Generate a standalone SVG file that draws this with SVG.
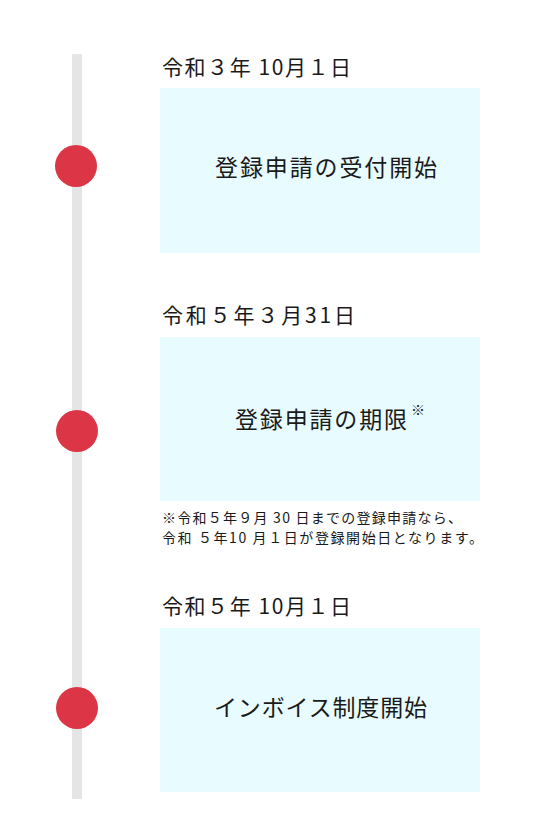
<svg xmlns="http://www.w3.org/2000/svg" width="556" height="839" viewBox="0 0 556 839">
<style>
text{font-family:"Noto Sans CJK JP","Noto Sans",sans-serif;fill:#1a1a1a}
.date{font-size:21px}
.label{font-size:23px}
.note{font-size:14px}
.box{fill:#e8fbfe}
.dot{fill:#dc3545}
</style>
<rect width="556" height="839" fill="#fff"/>
<g id="connectors">
<rect x="72" y="54" width="10" height="745" fill="#e5e5e5"/>
</g>
<g id="event1">
<circle class="dot" cx="76" cy="166" r="21"/>
<text class="date" x="162" y="75" textLength="189" lengthAdjust="spacing">令和３年 10月１日</text>
<rect class="box" x="160" y="88" width="320" height="165"/>
<text class="label" x="215" y="176" textLength="222" lengthAdjust="spacing">登録申請の受付開始</text>
</g>
<g id="event2">
<circle class="dot" cx="77" cy="431" r="21"/>
<text class="date" x="162" y="323" textLength="193" lengthAdjust="spacing">令和５年３月31日</text>
<rect class="box" x="160" y="337" width="320" height="164"/>
<text class="label" x="235" y="428" textLength="172" lengthAdjust="spacing">登録申請の期限</text>
<text x="411" y="415" style="font-size:14px">※</text>
<text class="note" x="162" y="523" textLength="300" lengthAdjust="spacing">※令和５年９月 30 日までの登録申請なら、</text>
<text class="note" x="162" y="543" textLength="321" lengthAdjust="spacing">令和 ５年10 月１日が登録開始日となります。</text>
</g>
<g id="event3">
<circle class="dot" cx="77" cy="708" r="21"/>
<text class="date" x="162" y="614" textLength="189" lengthAdjust="spacing">令和５年 10月１日</text>
<rect class="box" x="160" y="628" width="320" height="164"/>
<text class="label" x="214" y="716" textLength="213" lengthAdjust="spacing">インボイス制度開始</text>
</g>
</svg>
